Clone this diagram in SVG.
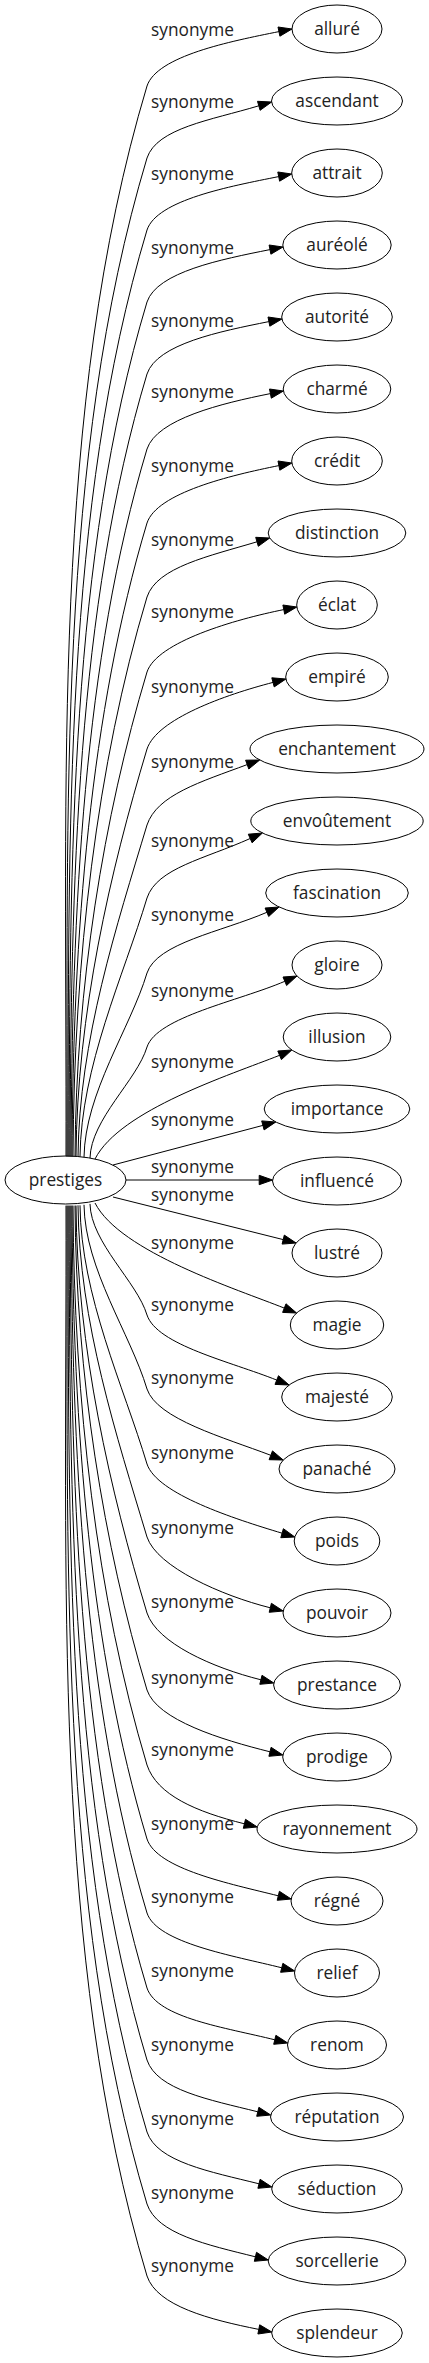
<svg xmlns="http://www.w3.org/2000/svg" width="429" height="2363" viewBox="0 0 429 2363">
<style>
.n ellipse{fill:none;stroke:#000;stroke-width:1}
text{font-family:"Open Sans","Noto Sans","DejaVu Sans",sans-serif;font-size:17.3px;fill:#222;text-anchor:middle}
.e path{fill:none;stroke:#000;stroke-width:1}
.e polygon{fill:#000;stroke:#000;stroke-width:1}
</style>
<rect width="429" height="2363" fill="#fff"/>
<g id="edges" class="e">
<path d="M66,1156.4 C67,781.8 50.7,407.1 147,86 C157,56 230,41.4 279,31.6"/><polygon points="292,29 279.9,36.2 278,27"/>
<path d="M67,1156.4 C68,807 57.1,457.5 147,158 C157,128 210.9,120.2 258.8,105.8"/><polygon points="271.6,102 260.1,110.3 257.5,101.3"/>
<path d="M68,1156.4 C69,832.2 63.6,507.9 147,230 C157,200 229.7,186.4 278.7,176.6"/><polygon points="291.7,174 279.6,181.2 277.8,172"/>
<path d="M69,1156.4 C70,857.4 70.1,558.3 147,302 C157,272 221,259.4 270,249.6"/><polygon points="283,247 270.9,254.2 269.1,245"/>
<path d="M70,1156.4 C71,882.6 76.6,608.7 147,374 C157,344 219.9,331.4 268.9,321.6"/><polygon points="281.9,319 269.8,326.2 268,317"/>
<path d="M71,1156.4 C72,908.8 83.3,661.2 147,449 C157,419 221.4,403.4 270.4,393.6"/><polygon points="283.4,391 271.3,398.2 269.5,389"/>
<path d="M72,1156.4 C73,934.7 90,713 147,523 C157,493 229.9,475.4 278.9,465.6"/><polygon points="291.9,463 279.8,470.2 278,461"/>
<path d="M73,1156.4 C74,960.6 96.7,764.8 147,597 C157,567 209.1,556.2 257,541.8"/><polygon points="269.7,538 258.3,546.3 255.7,537.3"/>
<path d="M75,1156.4 C76,986.9 103.4,817.3 147,672 C157,642 234.8,619.4 283.8,609.6"/><polygon points="296.8,607 284.7,614.2 282.9,605"/>
<path d="M76,1156.4 C77,1013.8 110.3,871.2 147,749 C157,719 224.6,695 273,682.4"/><polygon points="285.9,679 274.2,686.9 271.8,677.8"/>
<path d="M78,1156.7 C79,1040.6 117.1,924.5 147,825 C157,795 200.3,782 247.2,764.6"/><polygon points="259.7,760 248.8,769 245.6,760.2"/>
<path d="M80,1156.7 C81,1066.2 123.7,975.6 147,898 C157,868 204.6,859 250.2,838.5"/><polygon points="262.4,833 252.1,842.8 248.3,834.2"/>
<path d="M84,1157.2 C85,1092.7 130.4,1028.3 147,973 C157,943 221,932 266.9,912.3"/><polygon points="279.1,907 268.7,916.5 265.1,908"/>
<path d="M90,1158.1 C91,1119.2 137,1080.3 147,1047 C157,1017 238.9,1001 284.8,981.3"/><polygon points="297,976 286.6,985.5 283,977"/>
<path d="M95,1159 C120,1110 230,1075 279.6,1055.3"/><polygon points="291.8,1050 281.4,1059.6 277.8,1051"/>
<path d="M113,1165 L262.9,1125.4"/><polygon points="275.8,1122 264.1,1129.9 261.7,1120.9"/>
<path d="M126,1180 L259.2,1180"/><polygon points="272.5,1180 259.2,1184.7 259.2,1175.3"/>
<path d="M113,1197 L283.2,1239.6"/><polygon points="296.1,1243 282.1,1244.1 284.3,1235.1"/>
<path d="M95,1203 C120,1252 237.9,1289.5 284.3,1308.1"/><polygon points="296.6,1313 282.6,1312.4 286,1303.8"/>
<path d="M90,1203.9 C91,1242.8 137,1281.7 147,1315 C157,1345 230.4,1361.5 276.8,1380.1"/><polygon points="289.1,1385 275,1384.4 278.5,1375.7"/>
<path d="M84,1204.8 C85,1269.3 130.4,1333.7 147,1389 C157,1419 224.1,1437.5 270.8,1455.3"/><polygon points="283.2,1460 269.1,1459.7 272.5,1450.9"/>
<path d="M80,1205.3 C81,1295.8 123.7,1386.4 147,1464 C157,1494 234.2,1518.8 282.1,1533.2"/><polygon points="294.8,1537 280.8,1537.7 283.4,1528.7"/>
<path d="M78,1205.3 C79,1321.4 117.1,1437.5 147,1537 C157,1567 221.8,1595.7 270.3,1607.8"/><polygon points="283.2,1611 269.2,1612.3 271.4,1603.3"/>
<path d="M76,1205.6 C77,1348.2 110.3,1490.8 147,1613 C157,1643 212.4,1667.7 260.9,1679.8"/><polygon points="273.8,1683 259.8,1684.3 262,1675.3"/>
<path d="M75,1205.6 C76,1375.1 103.4,1544.7 147,1690 C157,1720 221.5,1739.7 270,1751.8"/><polygon points="282.9,1755 268.9,1756.3 271.1,1747.3"/>
<path d="M73,1205.6 C74,1401.4 96.7,1597.2 147,1765 C157,1795 195.9,1811.7 244.4,1823.8"/><polygon points="257.3,1827 243.3,1828.3 245.5,1819.3"/>
<path d="M72,1205.6 C73,1427.3 90,1649 147,1839 C157,1869 229.8,1883.7 278.3,1895.8"/><polygon points="291.2,1899 277.2,1900.3 279.4,1891.3"/>
<path d="M71,1205.6 C72,1453.2 83.3,1700.8 147,1913 C157,1943 233.3,1955.7 281.8,1967.8"/><polygon points="294.7,1971 280.6,1972.3 282.9,1963.3"/>
<path d="M70,1205.6 C71,1479.4 76.6,1753.3 147,1988 C157,2018 226.3,2027.7 274.8,2039.8"/><polygon points="287.7,2043 273.7,2044.3 275.9,2035.3"/>
<path d="M69,1205.6 C70,1504.6 70.1,1803.7 147,2060 C157,2090 209.3,2099.7 257.8,2111.8"/><polygon points="270.7,2115 256.7,2116.3 258.9,2107.3"/>
<path d="M68,1205.6 C69,1529.8 63.6,1854.1 147,2132 C157,2162 210.5,2171.7 259,2183.8"/><polygon points="271.9,2187 257.9,2188.3 260.1,2179.3"/>
<path d="M67,1205.6 C68,1555 57.1,1904.5 147,2204 C157,2234 206.9,2244.7 255.4,2256.8"/><polygon points="268.3,2260 254.3,2261.3 256.5,2252.3"/>
<path d="M66,1205.6 C67,1580.2 50.7,1954.9 147,2276 C157,2306 209.8,2319.6 258.8,2329.4"/><polygon points="271.8,2332 257.9,2334 259.7,2324.8"/>
<g id="edge-labels">
<text x="192.5" y="35.5">synonyme</text>
<text x="192.5" y="108">synonyme</text>
<text x="192.5" y="179.5">synonyme</text>
<text x="192.5" y="254">synonyme</text>
<text x="192.5" y="326.5">synonyme</text>
<text x="192.5" y="398">synonyme</text>
<text x="192.5" y="471.5">synonyme</text>
<text x="192.5" y="545.5">synonyme</text>
<text x="192.5" y="618">synonyme</text>
<text x="192.5" y="693">synonyme</text>
<text x="192.5" y="768">synonyme</text>
<text x="192.5" y="846.5">synonyme</text>
<text x="192.5" y="921">synonyme</text>
<text x="192.5" y="996.5">synonyme</text>
<text x="192.5" y="1068">synonyme</text>
<text x="192.5" y="1126">synonyme</text>
<text x="192.5" y="1172.5">synonyme</text>
<text x="192.5" y="1201">synonyme</text>
<text x="192.5" y="1249">synonyme</text>
<text x="192.5" y="1311">synonyme</text>
<text x="192.5" y="1384">synonyme</text>
<text x="192.5" y="1459">synonyme</text>
<text x="192.5" y="1534">synonyme</text>
<text x="192.5" y="1608">synonyme</text>
<text x="192.5" y="1684">synonyme</text>
<text x="192.5" y="1756">synonyme</text>
<text x="192.5" y="1830">synonyme</text>
<text x="192.5" y="1903">synonyme</text>
<text x="192.5" y="1977">synonyme</text>
<text x="192.5" y="2051">synonyme</text>
<text x="192.5" y="2125">synonyme</text>
<text x="192.5" y="2199">synonyme</text>
<text x="192.5" y="2272">synonyme</text>
</g>
</g>
<g id="node-prestiges" class="n"><ellipse cx="65.5" cy="1180" rx="60.5" ry="24"/><text x="65.5" y="1185.5">prestiges</text></g>
<g id="node-allure" class="n"><ellipse cx="337" cy="29" rx="45" ry="24"/><text x="337" y="34.5">alluré</text></g>
<g id="node-ascendant" class="n"><ellipse cx="337" cy="101" rx="65.5" ry="24"/><text x="337" y="106.5">ascendant</text></g>
<g id="node-attrait" class="n"><ellipse cx="337" cy="173" rx="45.3" ry="24"/><text x="337" y="178.5">attrait</text></g>
<g id="node-aureole" class="n"><ellipse cx="337" cy="245" rx="54.2" ry="24"/><text x="337" y="250.5">auréolé</text></g>
<g id="node-autorite" class="n"><ellipse cx="337" cy="317" rx="55.3" ry="24"/><text x="337" y="322.5">autorité</text></g>
<g id="node-charme" class="n"><ellipse cx="337" cy="389" rx="53.8" ry="24"/><text x="337" y="394.5">charmé</text></g>
<g id="node-credit" class="n"><ellipse cx="337" cy="461" rx="45.3" ry="24"/><text x="337" y="466.5">crédit</text></g>
<g id="node-distinction" class="n"><ellipse cx="337" cy="533" rx="68.8" ry="24"/><text x="337" y="538.5">distinction</text></g>
<g id="node-eclat" class="n"><ellipse cx="337" cy="605" rx="40.3" ry="24"/><text x="337" y="610.5">éclat</text></g>
<g id="node-empire" class="n"><ellipse cx="337" cy="677" rx="51.3" ry="24"/><text x="337" y="682.5">empiré</text></g>
<g id="node-enchantement" class="n"><ellipse cx="337" cy="749" rx="87" ry="24"/><text x="337" y="754.5">enchantement</text></g>
<g id="node-envoutement" class="n"><ellipse cx="337" cy="821" rx="86.2" ry="24"/><text x="337" y="826.5">envoûtement</text></g>
<g id="node-fascination" class="n"><ellipse cx="337" cy="893" rx="71.3" ry="24"/><text x="337" y="898.5">fascination</text></g>
<g id="node-gloire" class="n"><ellipse cx="337" cy="965" rx="45" ry="24"/><text x="337" y="970.5">gloire</text></g>
<g id="node-illusion" class="n"><ellipse cx="337" cy="1037" rx="53.8" ry="24"/><text x="337" y="1042.5">illusion</text></g>
<g id="node-importance" class="n"><ellipse cx="337" cy="1109" rx="72.8" ry="24"/><text x="337" y="1114.5">importance</text></g>
<g id="node-influence" class="n"><ellipse cx="337" cy="1181" rx="64.5" ry="24"/><text x="337" y="1186.5">influencé</text></g>
<g id="node-lustre" class="n"><ellipse cx="337" cy="1253" rx="45" ry="24"/><text x="337" y="1258.5">lustré</text></g>
<g id="node-magie" class="n"><ellipse cx="337" cy="1325" rx="46.7" ry="24"/><text x="337" y="1330.5">magie</text></g>
<g id="node-majeste" class="n"><ellipse cx="337" cy="1397" rx="55.3" ry="24"/><text x="337" y="1402.5">majesté</text></g>
<g id="node-panache" class="n"><ellipse cx="337" cy="1469" rx="58" ry="24"/><text x="337" y="1474.5">panaché</text></g>
<g id="node-poids" class="n"><ellipse cx="337" cy="1541" rx="42.8" ry="24"/><text x="337" y="1546.5">poids</text></g>
<g id="node-pouvoir" class="n"><ellipse cx="337" cy="1613" rx="54" ry="24"/><text x="337" y="1618.5">pouvoir</text></g>
<g id="node-prestance" class="n"><ellipse cx="337" cy="1685" rx="63.4" ry="24"/><text x="337" y="1690.5">prestance</text></g>
<g id="node-prodige" class="n"><ellipse cx="337" cy="1757" rx="54.3" ry="24"/><text x="337" y="1762.5">prodige</text></g>
<g id="node-rayonnement" class="n"><ellipse cx="337" cy="1829" rx="80" ry="24"/><text x="337" y="1834.5">rayonnement</text></g>
<g id="node-regne" class="n"><ellipse cx="337" cy="1901" rx="46" ry="24"/><text x="337" y="1906.5">régné</text></g>
<g id="node-relief" class="n"><ellipse cx="337" cy="1973" rx="42.5" ry="24"/><text x="337" y="1978.5">relief</text></g>
<g id="node-renom" class="n"><ellipse cx="337" cy="2045" rx="49.5" ry="24"/><text x="337" y="2050.5">renom</text></g>
<g id="node-reputation" class="n"><ellipse cx="337" cy="2117" rx="66.5" ry="24"/><text x="337" y="2122.5">réputation</text></g>
<g id="node-seduction" class="n"><ellipse cx="337" cy="2189" rx="65.3" ry="24"/><text x="337" y="2194.5">séduction</text></g>
<g id="node-sorcellerie" class="n"><ellipse cx="337" cy="2261" rx="68.8" ry="24"/><text x="337" y="2266.5">sorcellerie</text></g>
<g id="node-splendeur" class="n"><ellipse cx="337" cy="2333" rx="65.3" ry="24"/><text x="337" y="2338.5">splendeur</text></g>
</svg>
